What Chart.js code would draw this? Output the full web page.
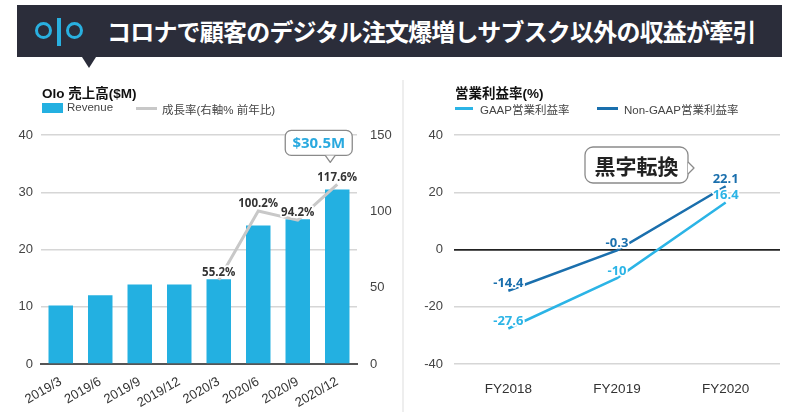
<!DOCTYPE html>
<html><head><meta charset="utf-8">
<script src="https://cdn.jsdelivr.net/npm/chart.js@4.4.1/dist/chart.umd.min.js"></script>
<style>
html,body{margin:0;padding:0;background:#fff;width:800px;height:417px;overflow:hidden;font-family:'Liberation Sans','Noto Sans CJK JP',Arial,sans-serif;}
.abs{position:absolute;}
#hdr{left:17px;top:5px;width:765px;height:52px;background:#2b2d3a;z-index:5;}
#hdrTip{left:82px;top:57px;width:0;height:0;border-left:7px solid transparent;border-right:7px solid transparent;border-top:11px solid #2b2d3a;z-index:5;}
.ring{width:11px;height:11px;border:3.5px solid #29b0e0;border-radius:50%;}
#hdrTitle{left:90px;top:0;height:52px;line-height:52px;color:#fff;font-family:'Noto Sans CJK JP',sans-serif;font-weight:bold;font-size:24px;letter-spacing:-0.8px;white-space:nowrap;}
.ttl{font-weight:bold;font-size:13.5px;color:#111;white-space:nowrap;z-index:4;}
.leg{font-size:11.5px;color:#444;white-space:nowrap;z-index:4;}
#divider{left:402px;top:80px;width:1.5px;height:332px;background:#eeeeee;}
</style></head>
<body>
<div id="hdr" class="abs">
  <div class="abs ring" style="left:18px;top:17px;"></div>
  <div class="abs" style="left:40px;top:13px;width:4px;height:28px;background:#29b0e0;"></div>
  <div class="abs ring" style="left:49px;top:17px;"></div>
  <div id="hdrTitle" class="abs">コロナで顧客のデジタル注文爆増しサブスク以外の収益が牽引</div>
</div>
<div id="hdrTip" class="abs"></div>
<div id="divider" class="abs"></div>

<div class="abs ttl" style="left:42px;top:82px;">Olo 売上高($M)</div>
<div class="abs" style="left:42px;top:103px;width:21px;height:10px;background:#23b0e1;z-index:4;"></div>
<div class="abs leg" style="left:67px;top:101px;">Revenue</div>
<div class="abs" style="left:136px;top:107px;width:21px;height:2.5px;background:#c8c8c8;z-index:4;"></div>
<div class="abs leg" style="left:162px;top:101px;">成長率(右軸% 前年比)</div>

<div class="abs ttl" style="left:455px;top:82px;">営業利益率(%)</div>
<div class="abs" style="left:455px;top:107px;width:18px;height:2.5px;background:#2bb4e6;z-index:4;"></div>
<div class="abs leg" style="left:480px;top:101px;">GAAP営業利益率</div>
<div class="abs" style="left:597px;top:107px;width:21px;height:2.5px;background:#1a6fad;z-index:4;"></div>
<div class="abs leg" style="left:624px;top:101px;">Non-GAAP営業利益率</div>

<div class="abs" style="left:0;top:0;width:400px;height:417px;"><canvas id="c1"></canvas></div>
<div class="abs" style="left:403px;top:0;width:397px;height:417px;"><canvas id="c2"></canvas></div>

<script>
// ---- data ----
const quarters = ['2019/3','2019/6','2019/9','2019/12','2020/3','2020/6','2020/9','2020/12'];
const revenue = [10.2, 12.0, 13.9, 13.9, 14.8, 24.2, 25.3, 30.5];
const growth = [null, null, null, null, 55.2, 100.2, 94.2, 117.6];
const revTicks = [0, 10, 20, 30, 40];
const growthTicks = [0, 50, 100, 150];

const years = ['FY2018','FY2019','FY2020'];
const gaapMargin = [-27.6, -10, 16.4];
const nonGaapMargin = [-14.4, -0.3, 22.1];
const marginTicks = [-40, -20, 0, 20, 40];

const tickFont = {family:"'Liberation Sans', Arial, sans-serif", size:13};
const labelFamily = "'Open Sans', 'Liberation Sans', sans-serif";

function calloutPath(ctx, x, y, w, h, r) {
  ctx.beginPath();
  ctx.moveTo(x + r, y);
  ctx.lineTo(x + w - r, y);
  ctx.arcTo(x + w, y, x + w, y + r, r);
  ctx.lineTo(x + w, y + h - r);
  ctx.arcTo(x + w, y + h, x + w - r, y + h, r);
  ctx.lineTo(x + r, y + h);
  ctx.arcTo(x, y + h, x, y + h - r, r);
  ctx.lineTo(x, y + r);
  ctx.arcTo(x, y, x + r, y, r);
  ctx.closePath();
}

function haloText(ctx, text, x, y, color) {
  ctx.lineJoin = 'round';
  ctx.lineWidth = 3.5;
  ctx.strokeStyle = '#ffffff';
  ctx.strokeText(text, x, y);
  ctx.fillStyle = color;
  ctx.fillText(text, x, y);
}

const leftLabels = {
  id: 'leftLabels',
  afterDatasetsDraw(chart) {
    const ctx = chart.ctx;
    ctx.save();
    const meta = chart.getDatasetMeta(1);
    ctx.font = 'bold 11.5px ' + labelFamily;
    ctx.textAlign = 'center';
    ctx.textBaseline = 'middle';
    meta.data.forEach((pt, i) => {
      const v = growth[i];
      if (v === null) return;
      haloText(ctx, v.toFixed(1) + '%', pt.x, pt.y - 7, '#333333');
    });
    // $30.5M callout anchored on last bar
    const bars = chart.getDatasetMeta(0).data;
    const last = bars[bars.length - 1];
    const bx = last.x - 52, by = last.y - 59, bw = 67, bh = 25;
    const tipX = last.x - 7;
    calloutPath(ctx, bx, by, bw, bh, 6);
    ctx.fillStyle = '#fff';
    ctx.fill();
    ctx.strokeStyle = '#8a8a8a';
    ctx.lineWidth = 1.3;
    ctx.stroke();
    ctx.beginPath();
    ctx.moveTo(tipX - 5, by + bh);
    ctx.lineTo(tipX, by + bh + 7);
    ctx.lineTo(tipX + 5, by + bh);
    ctx.fillStyle = '#fff';
    ctx.fill();
    ctx.beginPath();
    ctx.moveTo(tipX - 5, by + bh);
    ctx.lineTo(tipX, by + bh + 7);
    ctx.lineTo(tipX + 5, by + bh);
    ctx.stroke();
    ctx.font = 'bold 15px ' + labelFamily;
    ctx.fillStyle = '#29a9df';
    ctx.fillText('$' + revenue[revenue.length - 1].toFixed(1) + 'M', bx + bw / 2, by + bh / 2 + 0.5);
    ctx.restore();
  }
};

new Chart(document.getElementById('c1'), {
  data: {
    labels: quarters,
    datasets: [
      {type:'bar', label:'Revenue', data:revenue, backgroundColor:'#23b0e1', yAxisID:'y', order:2,
       barPercentage:0.62, categoryPercentage:1.0},
      {type:'line', label:'成長率', data:growth, borderColor:'#c8c8c8', borderWidth:3, pointRadius:0,
       yAxisID:'y1', order:1, spanGaps:false, tension:0}
    ]
  },
  options: {
    responsive:true, maintainAspectRatio:false, animation:false,
    layout:{padding:{top:135, left:0, right:0, bottom:0}},
    plugins:{legend:{display:false}, tooltip:{enabled:false}},
    scales:{
      x:{
        grid:{display:false},
        border:{display:true, color:'#555555', width:2},
        ticks:{font:tickFont, color:'#333', maxRotation:30, minRotation:30, padding:2, autoSkip:false},
        afterFit(s){ s.height = 53; }
      },
      y:{
        position:'left', min:0, max:40,
        afterBuildTicks(s){ s.ticks = revTicks.map(v => ({value:v})); },
        grid:{color:'#d6d6d6', lineWidth:1.5, drawTicks:false},
        border:{display:false},
        ticks:{font:tickFont, color:'#444', padding:8},
        afterFit(s){ s.width = 41; }
      },
      y1:{
        position:'right', min:0, max:150,
        afterBuildTicks(s){ s.ticks = growthTicks.map(v => ({value:v})); },
        grid:{display:false},
        border:{display:false},
        ticks:{font:tickFont, color:'#444', padding:5},
        afterFit(s){ s.width = 43; }
      }
    }
  },
  plugins:[leftLabels]
});

const rightLabels = {
  id: 'rightLabels',
  afterDatasetsDraw(chart) {
    const ctx = chart.ctx;
    ctx.save();
    ctx.font = 'bold 13px ' + labelFamily;
    ctx.textAlign = 'center';
    ctx.textBaseline = 'middle';
    const sets = [[gaapMargin, '#2bb4e6'], [nonGaapMargin, '#1a6fad']];
    sets.forEach(([vals, col], di) => {
      chart.getDatasetMeta(di).data.forEach((pt, i) => {
        haloText(ctx, String(vals[i]), pt.x, pt.y - 7, col);
      });
    });
    // 黒字転換 callout
    const ca = chart.chartArea;
    const bx = ca.left + 131, by = ca.top + 12, bw = 103, bh = 36;
    const tipY = by + 21;
    calloutPath(ctx, bx, by, bw, bh, 8);
    ctx.fillStyle = '#fff';
    ctx.fill();
    ctx.strokeStyle = '#8a8a8a';
    ctx.lineWidth = 1.3;
    ctx.stroke();
    ctx.beginPath();
    ctx.moveTo(bx + bw, tipY - 6);
    ctx.lineTo(bx + bw + 6, tipY);
    ctx.lineTo(bx + bw, tipY + 6);
    ctx.fillStyle = '#fff';
    ctx.fill();
    ctx.beginPath();
    ctx.moveTo(bx + bw, tipY - 6);
    ctx.lineTo(bx + bw + 6, tipY);
    ctx.lineTo(bx + bw, tipY + 6);
    ctx.stroke();
    ctx.font = "bold 21px 'Noto Sans CJK JP', sans-serif";
    ctx.fillStyle = '#222';
    ctx.fillText('黒字転換', bx + bw / 2, by + bh / 2 + 1);
    ctx.restore();
  }
};

new Chart(document.getElementById('c2'), {
  type:'line',
  data:{
    labels: years,
    datasets:[
      {label:'GAAP営業利益率', data:gaapMargin, borderColor:'#2bb4e6', borderWidth:2.5, pointRadius:0, tension:0},
      {label:'Non-GAAP営業利益率', data:nonGaapMargin, borderColor:'#1a6fad', borderWidth:2.5, pointRadius:0, tension:0}
    ]
  },
  options:{
    responsive:true, maintainAspectRatio:false, animation:false,
    layout:{padding:{top:135, left:0, right:20, bottom:0}},
    plugins:{legend:{display:false}, tooltip:{enabled:false}},
    scales:{
      x:{
        offset:true,
        grid:{display:false},
        border:{display:false},
        ticks:{font:{family:tickFont.family, size:13.5}, color:'#333', padding:9, maxRotation:0},
        afterFit(s){ s.height = 53; }
      },
      y:{
        min:-40, max:40,
        afterBuildTicks(s){ s.ticks = marginTicks.map(v => ({value:v})); },
        grid:{color:(c) => c.tick && c.tick.value === 0 ? '#222222' : '#d6d6d6', lineWidth:(c) => c.tick && c.tick.value === 0 ? 1.8 : 1.5, drawTicks:false},
        border:{display:false},
        ticks:{font:tickFont, color:'#444', padding:11},
        afterFit(s){ s.width = 51; }
      }
    }
  },
  plugins:[rightLabels]
});
</script>
</body></html>
